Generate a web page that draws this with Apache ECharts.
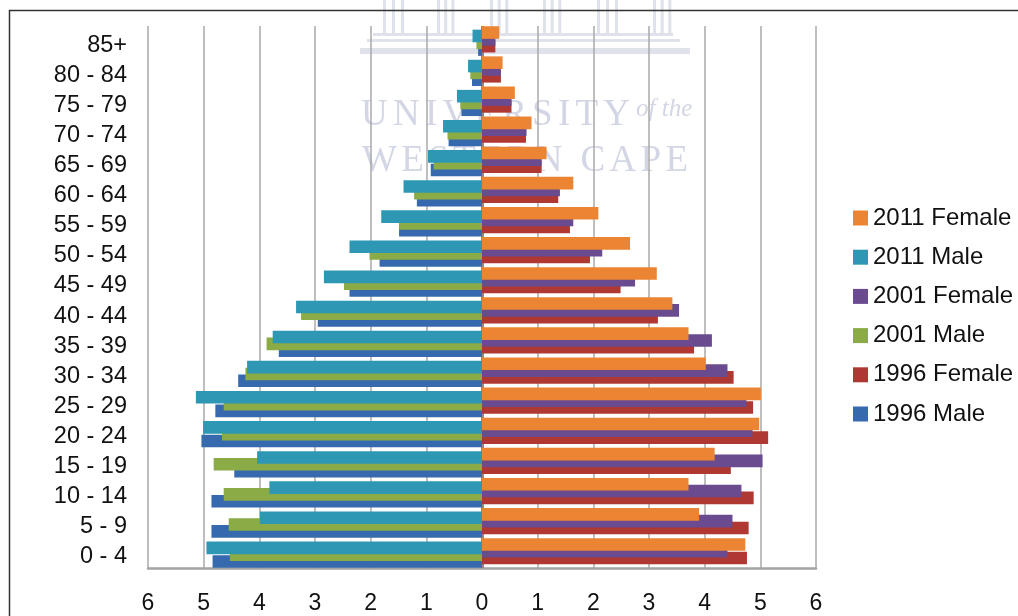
<!DOCTYPE html>
<html>
<head>
<meta charset="utf-8">
<script src="https://cdn.jsdelivr.net/npm/echarts@6/dist/echarts.min.js"></script>
<style>
html,body{margin:0;padding:0;background:#fff;}
#chart{width:1018px;height:616px;}
</style>
</head>
<body>
<div id="chart"></div>
<script>
const categories = ['0 - 4','5 - 9','10 - 14','15 - 19','20 - 24','25 - 29','30 - 34','35 - 39','40 - 44','45 - 49','50 - 54','55 - 59','60 - 64','65 - 69','70 - 74','75 - 79','80 - 84','85+'];
const xTicks = [-6,-5,-4,-3,-2,-1,0,1,2,3,4,5,6];

const male2011   = [4.95,3.99,3.82,4.04,5.01,5.14,4.22,3.76,3.34,2.84,2.38,1.81,1.41,0.97,0.70,0.45,0.25,0.17];
const male2001   = [4.53,4.55,4.64,4.82,4.67,4.64,4.25,3.87,3.25,2.48,2.02,1.49,1.22,0.87,0.62,0.39,0.21,0.10];
const male1996   = [4.84,4.86,4.86,4.45,5.04,4.79,4.38,3.65,2.95,2.38,1.84,1.49,1.17,0.92,0.60,0.37,0.18,0.07];
const female2011 = [4.73,3.90,3.71,4.18,4.98,5.01,4.02,3.71,3.42,3.14,2.66,2.09,1.64,1.16,0.89,0.59,0.37,0.31];
const female2001 = [4.41,4.50,4.66,5.04,4.86,4.75,4.41,4.13,3.54,2.75,2.16,1.64,1.40,1.07,0.80,0.53,0.34,0.24];
const female1996 = [4.76,4.79,4.88,4.47,5.14,4.87,4.52,3.81,3.16,2.49,1.94,1.58,1.37,1.07,0.79,0.53,0.34,0.24];

const seriesNames = ['2011 Female','2011 Male','2001 Female','2001 Male','1996 Female','1996 Male'];
const colors = ['#EB8534','#2E98B4','#6A4B8F','#8AAB45','#AF3833','#3669AE'];

const chart = echarts.init(document.getElementById('chart'));
const FONT = 'Liberation Sans, Arial, sans-serif';
const neg = a => a.map(v => -v);
const dataSets = [female2011, neg(male2011), female2001, neg(male2001), female1996, neg(male1996)];

// watermark letters
const mctx = document.createElement('canvas').getContext('2d');
const wmText = '#d3d6e5';
function spacedLetters(text, font, x0, x1, yc) {
  mctx.font = font;
  const chars = text.split('');
  const widths = chars.map(c => mctx.measureText(c).width);
  const total = widths.reduce((a,b)=>a+b,0);
  const sp = (x1 - x0 - total) / (chars.length - 1);
  let x = x0;
  const out = [];
  chars.forEach((c,i) => {
    out.push({type:'text', silent:true, z:-1, left: x, top: yc, style: {text:c, font: font, fill: wmText, textVerticalAlign:'middle'}});
    x += widths[i] + sp;
  });
  return out;
}
const wm = [];
const wmColor = '#dfe1eb';
// building
[[383,403],[437,453],[490,507],[543,560],[597,617],[653,670]].forEach(p => {
  const w = p[1]-p[0];
  [0,0.45,0.9].forEach(f => {
    wm.push({type:'rect', silent:true, z:-1, shape:{x:p[0]+f*w, y:0, width:3, height:34}, style:{fill:wmColor}});
  });
});
wm.push({type:'rect', silent:true, z:-1, shape:{x:373,y:33,width:300,height:3}, style:{fill:wmColor}});
wm.push({type:'rect', silent:true, z:-1, shape:{x:367,y:39,width:313,height:3}, style:{fill:wmColor}});
wm.push({type:'rect', silent:true, z:-1, shape:{x:360,y:48,width:330,height:6}, style:{fill:wmColor}});
const wmFont = '37px "Liberation Serif", "DejaVu Serif", serif';
wm.push(...spacedLetters('UNIVERSITY', wmFont, 361, 630, 97));
wm.push({type:'text', silent:true, z:-1, left:636, top:97, style:{text:'of the', font:'italic 25px "Liberation Serif", serif', fill: wmText, textVerticalAlign:'middle'}});
wm.push(...spacedLetters('WESTERN CAPE', wmFont, 362, 688, 143));

const option = {
  animation: false,
  backgroundColor: '#ffffff',
  textStyle: {fontFamily: FONT},
  grid: {left: 148, right: 202, top: 26, bottom: 48, containLabel: false},
  legend: {
    orient: 'vertical',
    left: 853,
    top: 206,
    padding: 0,
    itemWidth: 15,
    itemHeight: 15,
    itemGap: 15.2,
    icon: 'rect',
    data: seriesNames,
    textStyle: {fontSize: 24, color: '#111', fontFamily: FONT}
  },
  xAxis: {
    type: 'value',
    min: -6, max: 6, interval: 1,
    axisLine: {show: true, onZero: false, lineStyle: {color: '#a3a3a3', width: 2.5}},
    axisTick: {show: false},
    axisLabel: {fontSize: 23, color: '#111', margin: 24, fontFamily: FONT,
      formatter: v => (xTicks.indexOf(v) >= 0 ? String(Math.abs(v)) : '')},
    splitLine: {show: true, lineStyle: {color: '#a8a8a8', width: 1.5}}
  },
  yAxis: {
    type: 'category',
    data: categories,
    axisLine: {show: false, onZero: false},
    axisTick: {show: false},
    axisLabel: {fontSize: 23.5, color: '#111', margin: 21, fontFamily: FONT, interval: 0,
      verticalAlign: 'top', lineHeight: 8},
    splitLine: {show: false}
  },
  graphic: [
    ...wm,
    {type:'rect', silent:true, z:100, shape:{x:9.5,y:10.5,width:1040,height:640}, style:{fill:'none', stroke:'#333', lineWidth:1.5}}
  ],
  series: seriesNames.map((name, i) => ({
    name: name,
    type: 'bar',
    data: dataSets[i],
    barWidth: 12.6,
    barGap: '-73%',
    z: 10 - i,
    itemStyle: {color: colors[i]},
    markLine: i === 0 ? {
      silent: true, symbol: 'none', label: {show: false},
      lineStyle: {color: '#8c8c8c', width: 3, type: 'solid'},
      data: [{xAxis: 0}]
    } : undefined
  }))
};
chart.setOption(option);
</script>
</body>
</html>
